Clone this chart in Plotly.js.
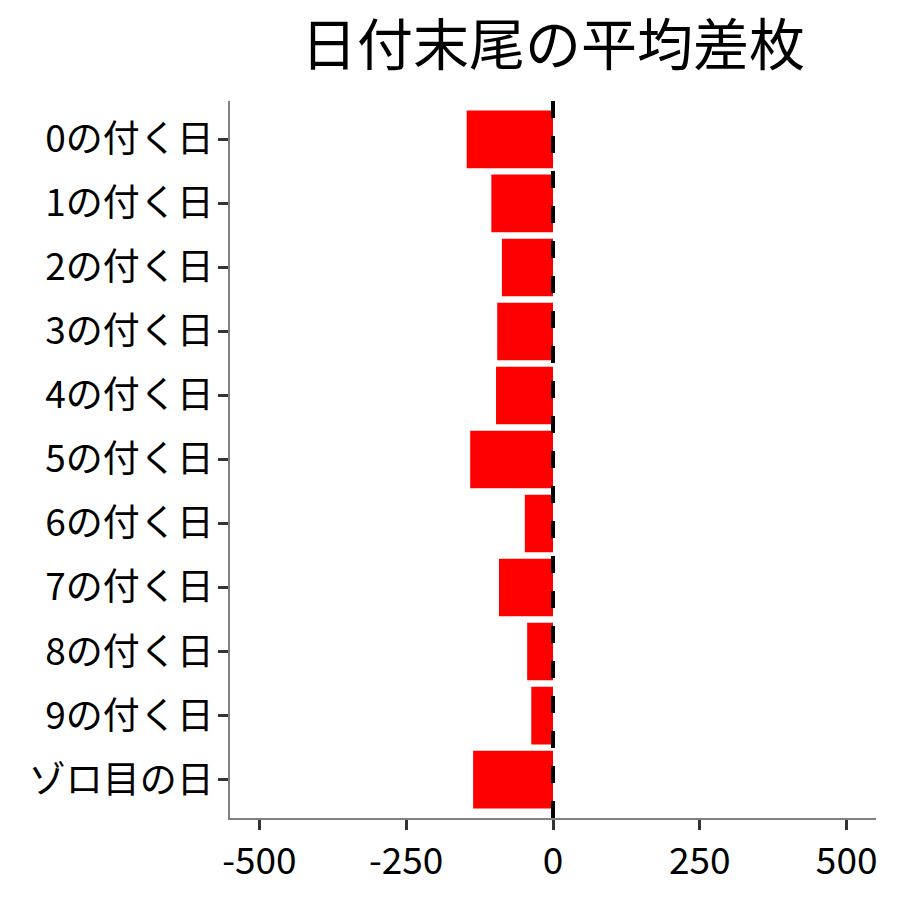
<!DOCTYPE html>
<html>
<head>
<meta charset="utf-8">
<script src="https://cdn.plot.ly/plotly-3.0.1.min.js"></script>
<style>
  body { margin: 0; background: #fff; }
  #chart { width: 900px; height: 900px; }
</style>
</head>
<body>
<div id="chart"></div>
<script>
var categories = ['0の付く日', '1の付く日', '2の付く日', '3の付く日', '4の付く日',
                  '5の付く日', '6の付く日', '7の付く日', '8の付く日', '9の付く日', 'ゾロ目の日'];
var avgDiff = [-147, -105, -87, -95, -97, -141, -48, -92, -44, -37, -136];
var xTickVals = [-500, -250, 0, 250, 500];
var xTickText = ['-500', '-250', '0', '250', '500'];

var fontFamily = '"Noto Sans CJK JP", "Noto Sans", sans-serif';

var trace1 = {
  type: 'bar',
  orientation: 'h',
  x: avgDiff,
  y: categories,
  width: 0.9,
  marker: {
    color: '#FF0000',
    line: { width: 0 }
  },
  hoverinfo: 'x+y'
};

var layout = {
  width: 900,
  height: 900,
  paper_bgcolor: '#fff',
  plot_bgcolor: '#fff',
  showlegend: false,
  font: { family: fontFamily, color: '#000' },
  title: {
    text: '日付末尾の平均差枚',
    font: { family: fontFamily, size: 56, color: '#000' },
    x: 0.5,
    xref: 'paper',
    xanchor: 'center',
    y: 0.95,
    yref: 'container',
    yanchor: 'middle'
  },
  margin: { l: 230, r: 24, t: 101, b: 82 },
  xaxis: {
    range: [-550, 550],
    tickmode: 'array',
    tickvals: xTickVals,
    ticktext: xTickText,
    showgrid: false,
    zeroline: false,
    showline: true,
    linecolor: '#808080',
    linewidth: 1.5,
    ticks: 'outside',
    ticklen: 10,
    tickwidth: 3,
    tickcolor: '#333',
    tickfont: { family: fontFamily, size: 37, color: '#000' }
  },
  yaxis: {
    type: 'category',
    categoryorder: 'array',
    categoryarray: categories,
    range: [10.6, -0.6],
    showgrid: false,
    zeroline: false,
    showline: true,
    linecolor: '#808080',
    linewidth: 1.5,
    ticks: 'outside',
    ticklen: 10,
    tickwidth: 3,
    tickcolor: '#333',
    ticklabelstandoff: -3,
    tickfont: { family: fontFamily, size: 37, color: '#000' }
  },
  shapes: [{
    type: 'line',
    xref: 'x',
    yref: 'paper',
    x0: 0, x1: 0,
    y0: 0, y1: 1,
    line: { color: '#000', width: 4, dash: '17px,18px' }
  }]
};

Plotly.newPlot('chart', [trace1], layout, {displayModeBar: false});
</script>
</body>
</html>
